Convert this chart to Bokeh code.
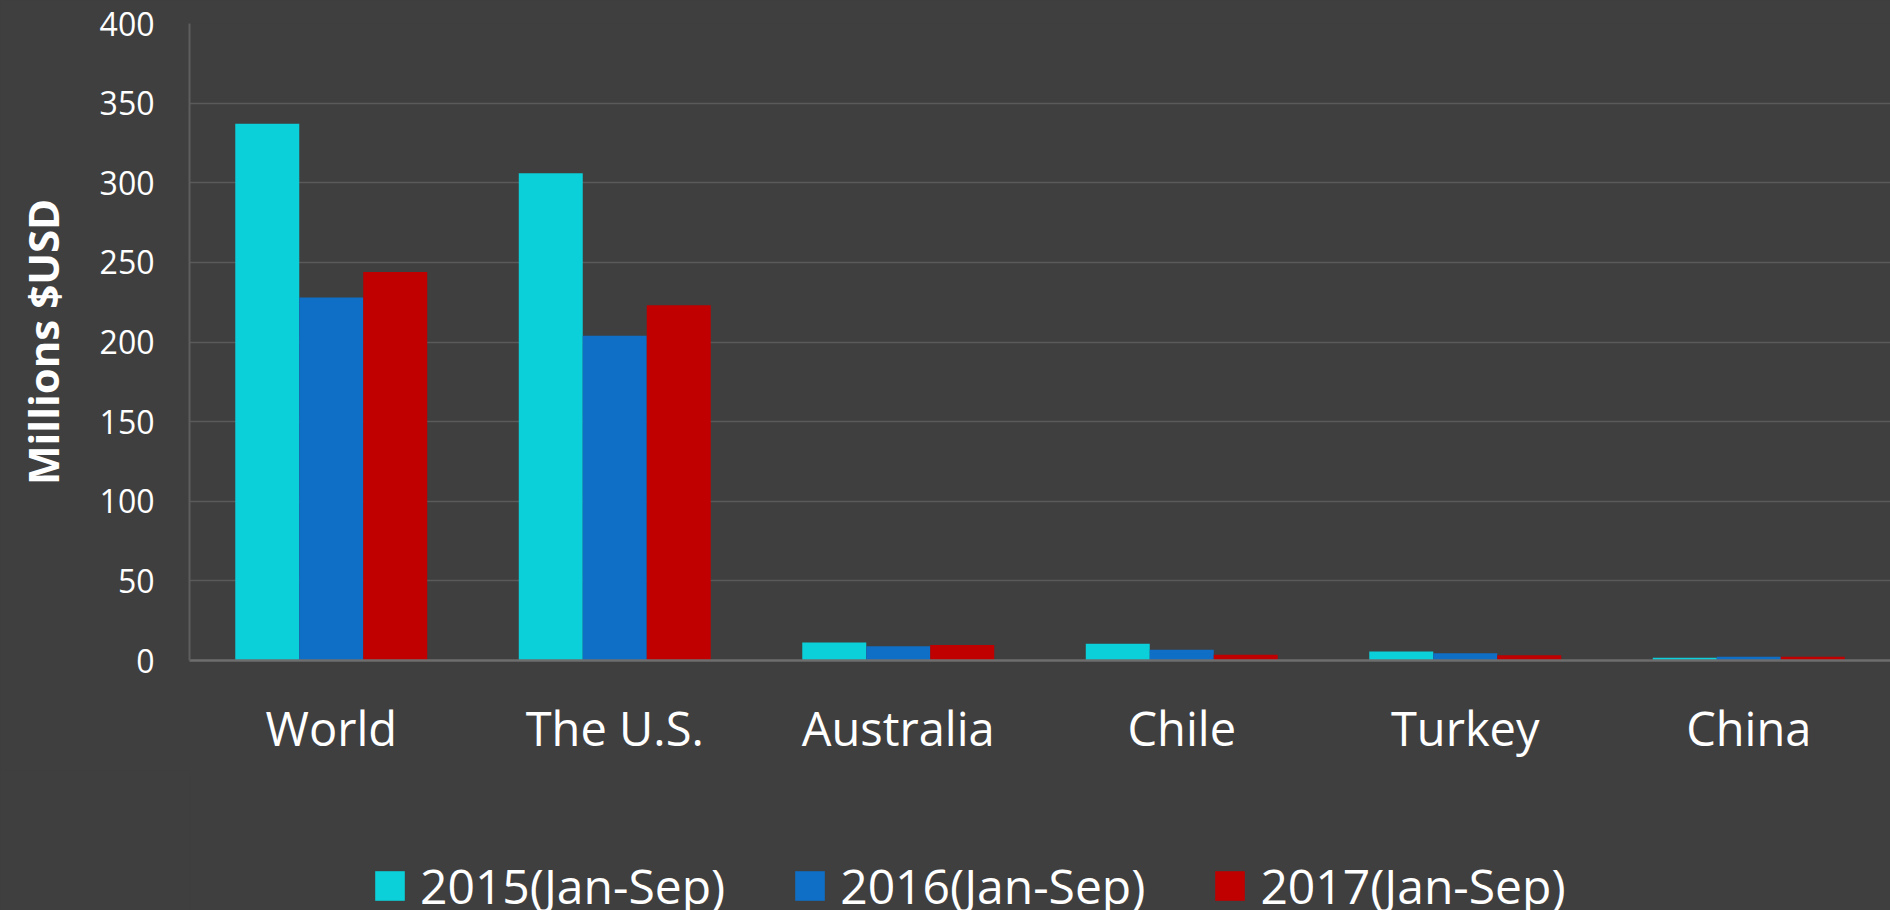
from bokeh.plotting import figure
from bokeh.models import ColumnDataSource, FactorRange, Range1d, Legend, LegendItem
from bokeh.layouts import column
from bokeh.transform import dodge
from bokeh.embed import file_html
from bokeh.resources import INLINE

categories = ["World", "The U.S.", "Australia", "Chile", "Turkey", "China"]
s2015 = [337, 306, 11.3, 10.5, 5.6, 1.7]
s2016 = [228, 204, 9.0, 6.7, 4.6, 2.3]
s2017 = [244, 223, 9.8, 3.6, 3.3, 2.3]
series_names = ["2015(Jan-Sep)", "2016(Jan-Sep)", "2017(Jan-Sep)"]
y_ticks = [0, 50, 100, 150, 200, 250, 300, 350, 400]

BG = "#3F3F3F"
COLORS = ["#0BD0D9", "#0F6FC6", "#C00000"]
FONT = "Open Sans"

src = ColumnDataSource(dict(cat=categories, s2015=s2015, s2016=s2016, s2017=s2017))

p = figure(
    width=1890, height=770,
    x_range=FactorRange(*categories, range_padding=0),
    y_range=Range1d(0, 400),
    output_backend="svg", toolbar_location=None,
    background_fill_color=BG, border_fill_color=BG,
    min_border_left=189, min_border_right=0, min_border_top=23, min_border_bottom=110,
    outline_line_color=None,
)

bw = 0.2257
offsets = [-bw, 0, bw]
cols = ["s2015", "s2016", "s2017"]
for col, off, color in zip(cols, offsets, COLORS):
    p.vbar(x=dodge("cat", off, range=p.x_range), top=col, width=bw, source=src,
           fill_color=color, line_color=None)

# grid
p.xgrid.grid_line_color = None
p.ygrid.grid_line_color = "#5A5A5A"
p.ygrid.grid_line_width = 1.5
p.ygrid.ticker = y_ticks

# y axis
p.yaxis.ticker = y_ticks
p.yaxis.axis_line_color = "#5E5E5E"
p.yaxis.axis_line_width = 2
p.yaxis.major_tick_line_color = None
p.yaxis.minor_tick_line_color = None
p.yaxis.major_label_standoff = 29
p.yaxis.major_label_text_font = FONT
p.yaxis.major_label_text_font_size = "32px"
p.yaxis.major_label_text_color = "#FFFFFF"
p.yaxis.axis_label = "Millions $USD"
p.yaxis.axis_label_text_font = FONT
p.yaxis.axis_label_text_font_size = "42px"
p.yaxis.axis_label_text_font_style = "bold"
p.yaxis.axis_label_text_color = "#FFFFFF"
p.yaxis.axis_label_standoff = 26

# x axis
p.xaxis.axis_line_color = "#6E6E6E"
p.xaxis.axis_line_width = 2.5
p.xaxis.major_tick_line_color = None
p.xaxis.minor_tick_line_color = None
p.xaxis.major_label_standoff = 29
p.xaxis.major_label_text_font = FONT
p.xaxis.major_label_text_font_size = "47px"
p.xaxis.major_label_text_color = "#FFFFFF"

# legend strip below the chart
p2 = figure(
    width=1890, height=140,
    x_range=p.x_range, y_range=p.y_range,
    x_axis_location=None, y_axis_location=None,
    output_backend="svg", toolbar_location=None,
    background_fill_color=BG, background_fill_alpha=0, border_fill_color=BG,
    outline_line_color=None,
    min_border_left=189, min_border_right=0, min_border_top=0, min_border_bottom=0,
)
p2.grid.visible = False
leg_renderers = []
for col, off, color in zip(cols, offsets, COLORS):
    r = p2.vbar(x=dodge("cat", off, range=p.x_range), top=col, width=bw, source=src,
                fill_color=color, line_color=None, visible=False)
    leg_renderers.append(r)

legend = Legend(items=[LegendItem(label=n, renderers=[r]) for n, r in zip(series_names, leg_renderers)],
                location=(182, -8), orientation="horizontal",
                glyph_width=37, glyph_height=37, label_standoff=12,
                padding=0, margin=0, spacing=66,
                border_line_color=None, background_fill_alpha=0,
                label_text_font=FONT, label_text_font_size="48px",
                label_text_color="#FFFFFF")
p2.add_layout(legend, "center")

layout = column(p, p2, spacing=0, styles={"background-color": BG})
open("out.html", "w").write(file_html(layout, INLINE))
